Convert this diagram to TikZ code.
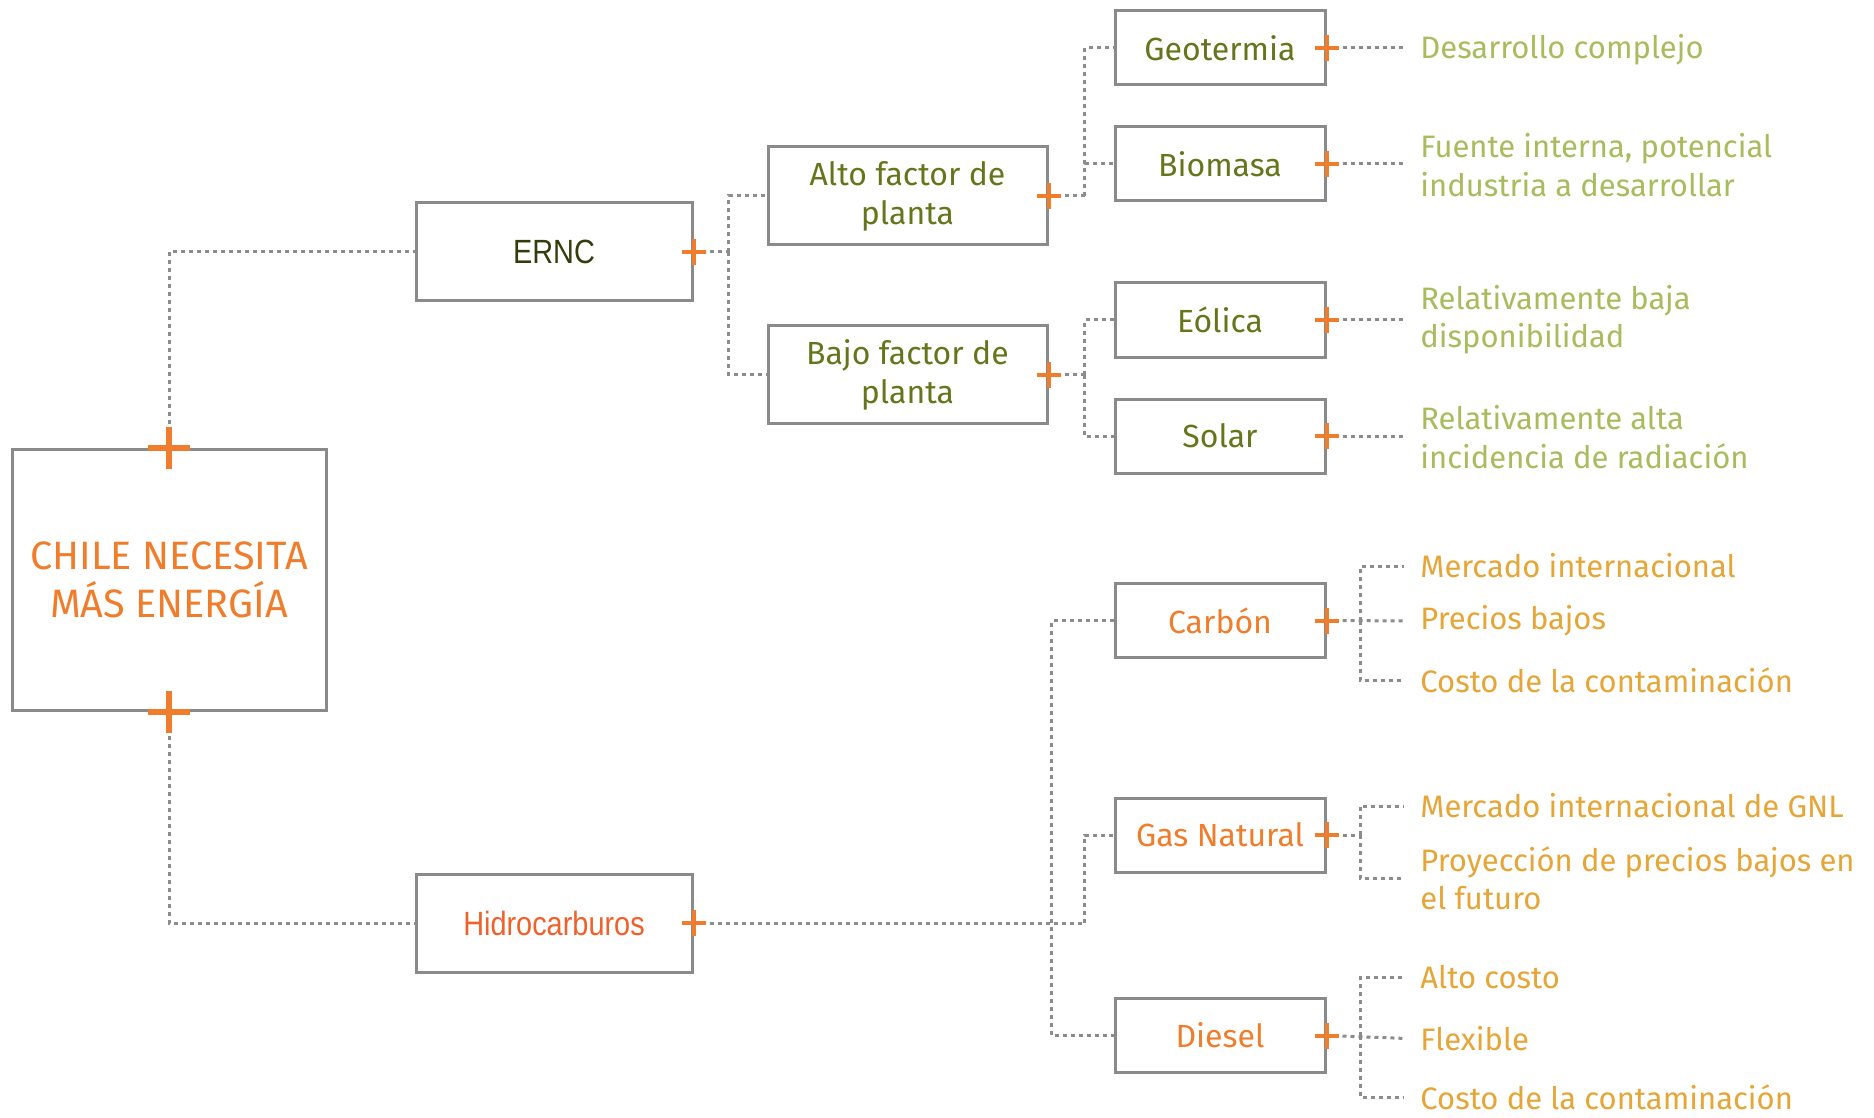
\documentclass[tikz,border=0pt]{standalone}
\usepackage{fontspec}
\setmainfont{Fira Sans}
\newfontfamily\narrowf[FakeStretch=0.86]{Liberation Sans}
\newlength{\pxu}\setlength{\pxu}{0.5pt}
\definecolor{boxgray}{HTML}{8A8A8A}
\definecolor{dotgray}{HTML}{8C8C8C}
\definecolor{olive}{HTML}{66751C}
\definecolor{darkolive}{HTML}{333D0C}
\definecolor{lightgreen}{HTML}{A9BB5C}
\definecolor{orangeA}{HTML}{F07D2B}
\definecolor{orangeR}{HTML}{F0602A}
\definecolor{goldA}{HTML}{E6A537}
\tikzset{
  box/.style={draw=boxgray, line width=3\pxu, inner sep=0pt, align=center,
    font=\fontsize{16}{19.5}\selectfont},
  smallbox/.style={box, minimum width=210\pxu, minimum height=74\pxu},
  midbox/.style={box, minimum width=279\pxu, minimum height=98\pxu, text=olive},
  conn/.style={draw=dotgray, line width=3\pxu, dash pattern=on 4\pxu off 4\pxu},
  desc/.style={anchor=west, inner sep=0pt, align=left, font=\fontsize{15.5}{19.2}\selectfont},
  pics/plusbig/.style={code={\draw[orangeA, line width=6\pxu] (-21,0)--(21,0) (0,-21)--(0,21);}},
  pics/plussmall/.style={code={\draw[orangeA, line width=4\pxu] (-12,0)--(12,0) (0,-13)--(0,13);}},
}
\begin{document}
\begin{tikzpicture}[x=0.5pt,y=-0.5pt]
\useasboundingbox (0,0) rectangle (1874,1118);
% main
\node[box, minimum width=314\pxu, minimum height=261\pxu, text=orangeA,
  font=\fontsize{19.8}{24}\selectfont] (main) at (169,580) {CHILE NECESITA\\MÁS ENERGÍA};
\node[box, minimum width=276\pxu, minimum height=98\pxu, text=darkolive,
  font=\narrowf\fontsize{16.8}{19}\selectfont] (ernc) at (554,252) {ERNC};
\node[box, minimum width=276\pxu, minimum height=98\pxu, text=orangeR,
  font=\narrowf\fontsize{16.8}{19}\selectfont] (hid) at (554,923) {Hidrocarburos};
\node[midbox] (alto) at (907.5,196) {Alto factor de\\planta};
\node[midbox] (bajo) at (907.5,374.5) {Bajo factor de\\planta};
\node[smallbox, text=olive] (geo) at (1220,48) {Geotermia};
\node[smallbox, text=olive] (bio) at (1220,164) {Biomasa};
\node[smallbox, text=olive] (eol) at (1220,320) {Eólica};
\node[smallbox, text=olive] (sol) at (1220,436) {Solar};
\node[smallbox, text=orangeA] (car) at (1220,620.5) {Carbón};
\node[smallbox, text=orangeA] (gas) at (1220,835) {Gas Natural};
\node[smallbox, text=orangeA] (die) at (1220,1035.5) {Diesel};
% descriptions
\node[desc, text=lightgreen] (d1) at (1420,50) {Desarrollo complejo};
\node[desc, text=lightgreen] (d2) at (1420,165) {Fuente interna, potencial\\industria a desarrollar};
\node[desc, text=lightgreen] (d3) at (1420,320) {Relativamente baja\\disponibilidad};
\node[desc, text=lightgreen] (d4) at (1420,437) {Relativamente alta\\incidencia de radiación};
\node[desc, text=goldA] (c1) at (1420,566) {Mercado internacional};
\node[desc, text=goldA] (c2) at (1420,621) {Precios bajos};
\node[desc, text=goldA] (c3) at (1420,680) {Costo de la contaminación};
\node[desc, text=goldA] (g1) at (1420,806) {Mercado internacional de GNL};
\node[desc, text=goldA] (g2) at (1420,878) {Proyección de precios bajos en\\el futuro};
\node[desc, text=goldA] (e1) at (1420,977) {Alto costo};
\node[desc, text=goldA] (e2) at (1420,1039) {Flexible};
\node[desc, text=goldA] (e3) at (1420,1097) {Costo de la contaminación};
% junctions
\coordinate (k1) at (1360,620.5);
\coordinate (k2) at (1360,835);
\coordinate (k3) at (1360,1035.5);
% connectors
\draw[conn] (main.north) |- (ernc.west);
\draw[conn] (main.south) |- (hid.west);
\draw[conn] (ernc.east) -- ++(35,0) coordinate (j1);
\draw[conn] (j1) |- (alto.west);
\draw[conn] (j1) |- (bajo.west);
\draw[conn] (alto.east) -- ++(36,0) coordinate (j2);
\draw[conn] (j2) |- (geo.west);
\draw[conn] (j2) |- (bio.west);
\draw[conn] (bajo.east) -- ++(36,0) coordinate (j3);
\draw[conn] (j3) |- (eol.west);
\draw[conn] (j3) |- (sol.west);
\draw[conn] (hid.east) -- ++(391,0) coordinate (j4);
\draw[conn] (j4) |- (gas.west);
\draw[conn] (car.west) -- ++(-62,0) |- (die.west);
\foreach \b/\d in {geo/d1, bio/d2, eol/d3, sol/d4}
  \draw[conn, shorten >=8pt] (\b.east) -- (\b.east -| \d.west);
\draw[conn, shorten >=8pt] (car.east) -- (c2.west);
\draw[conn, shorten >=8pt] (k1) |- (c1.west);
\draw[conn, shorten >=8pt] (k1) |- (c3.west);
\draw[conn] (gas.east) -- (k2);
\draw[conn, shorten >=8pt] (k2) |- (g1.west);
\draw[conn, shorten >=8pt] (k2) |- (g2.west);
\draw[conn, shorten >=8pt] (die.east) -- (e2.west);
\draw[conn, shorten >=8pt] (k3) |- (e1.west);
\draw[conn, shorten >=8pt] (k3) |- (e3.west);
% plus marks
\pic at (main.north) {plusbig};
\pic at (main.south) {plusbig};
\foreach \n in {ernc, alto, bajo, hid, geo, bio, eol, sol, car, gas, die}
  \pic at (\n.east) {plussmall};
\end{tikzpicture}
\end{document}
